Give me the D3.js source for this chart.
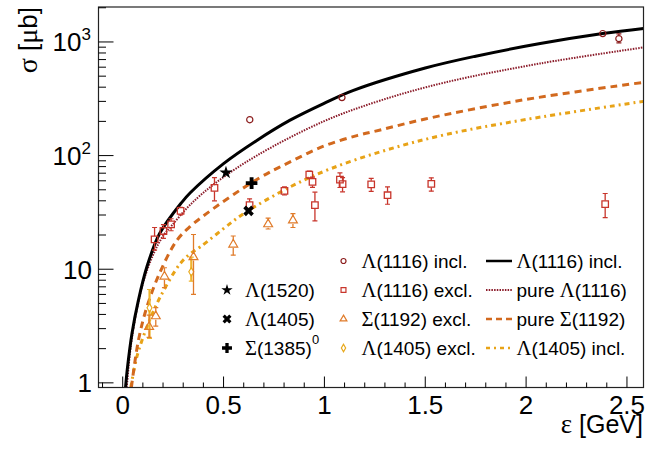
<!DOCTYPE html>
<html><head><meta charset="utf-8">
<script src="https://cdn.jsdelivr.net/npm/d3@7"></script>
<style>body{margin:0;background:#fff} svg{display:block}</style>
</head><body><svg id="c" width="668" height="450"></svg>
<script>
// ---------- DATA ----------
const xTicks = [0, 0.5, 1, 1.5, 2, 2.5];
const xTickLabels = ["0", "0.5", "1", "1.5", "2", "2.5"];
const xMinorTicks = [-0.1,0.1,0.2,0.3,0.4,0.6,0.7,0.8,0.9,1.1,1.2,1.3,1.4,1.6,1.7,1.8,1.9,2.1,2.2,2.3,2.4];
const yTicks = [1, 10, 100, 1000];
const yTickBase = ["1", "10", "10", "10"];
const yTickExp = ["", "", "2", "3"];
const yMinorTicks = [2,3,4,5,6,7,8,9,20,30,40,50,60,70,80,90,200,300,400,500,600,700,800,900,2000];

// Curves (epsilon GeV, sigma μb)
const lamInclCurveEps = [0.014,0.024,0.046,0.078,0.12,0.183,0.293,0.335,0.5,0.665,0.83,0.996,1.144,1.5,1.75,2.07,2.38,2.582];
const lamInclCurveSig = [0.91,1.38,2.72,5.34,10.5,20.6,38.8,47.1,85,136,205,287,375,590,750,968,1185,1313];
const pureLamEps = [0.02,0.04,0.07,0.1,0.15,0.2,0.244,0.335,0.467,0.665,0.996,1.277,1.6,2.07,2.582];
const pureLamSig = [0.91,2.1,4.4,7.5,13.3,19.6,24.3,37,58.6,100,200,305,441,647,895];
const pureSigEps = [0.043,0.078,0.12,0.186,0.269,0.335,0.417,0.665,0.83,0.996,1.161,1.277,1.5,2.0,2.582];
const pureSigSig = [0.91,2.37,4.66,9.5,18,23.8,31,61.7,88,121,150,168,210,312,441];
const lam1405InclEps = [0.04,0.07,0.12,0.186,0.285,0.335,0.384,0.533,0.6,0.83,1.03,1.3,1.6,2.0,2.582];
const lam1405InclSig = [0.91,1.69,3.1,5.7,11.2,13.7,15.7,25.3,30.9,53,76.5,111,153,208,300];

// Data points
const lamInclEps = [0.63, 1.087, 2.38, 2.46];
const lamInclSig = [207, 324, 1185, 1070];
const lamInclHi  = [0, 0, 0, 110];
const lamInclLo  = [0, 0, 0, 90];

const lamExclEps = [0.158,0.202,0.24,0.287,0.455,0.629,0.802,0.925,0.941,0.953,1.077,1.09,1.232,1.313,1.53,2.392];
const lamExclSig = [18.3,21.7,24.8,32.6,52,36.6,49,68,58.6,36.6,61.4,56,55.9,44.8,56.3,37.4];
const lamExclHi  = [5,3,3,2.5,12,5,4,5,6,11,9,8,7,8.2,7.4,9];
const lamExclLo  = [3.6,3,3,2.5,12,5,4,5,6,10,9,8,7.4,7.5,7.7,8.9];

const sigExclEps = [0.131,0.164,0.207,0.351,0.548,0.721,0.844];
const sigExclSig = [3.11,3.86,8.63,12.8,16.5,24.9,26.9];
const sigExclHi  = [0.83,0.74,1.67,7.4,3.1,3.3,4.0];
const sigExclLo  = [0.6,0.71,1.73,6.8,3.2,2.3,3.6];

const l1405ExclEps = [0.133, 0.34];
const l1405ExclSig = [4.57, 9.48];
const l1405ExclHi  = [2.06, 3.3];
const l1405ExclLo  = [2.11, 1.63];

const lam1520 = [0.512, 70.8];
const lam1405 = [0.624, 32.6];
const sig1385 = [0.639, 57.2];

// ---------- STYLE ----------
const C = {
  lamIncl: "#8b1c1c", lamExcl: "#c8352b", sigExcl: "#e07b2a", l1405Excl: "#e8a81a",
  pureLam: "#8b1c2a", pureSig: "#d2691e", l1405Incl: "#e8a317"
};
const SANS = "'Liberation Sans', Arial, Helvetica, sans-serif";
const SERIF = "'Liberation Serif', 'Times New Roman', serif";

const svg = d3.select("#c");
svg.append("rect").attr("width",668).attr("height",450).attr("fill","#fff");
const P = {left:98.5, right:643.5, top:7, bottom:387.5};
const x = d3.scaleLinear().domain([-0.12, 2.582]).range([P.left, P.right]);
const y = d3.scaleLog().domain([0.91, 2031]).range([P.bottom, P.top]);

svg.append("clipPath").attr("id","clip").append("rect")
  .attr("x",P.left).attr("y",P.top).attr("width",P.right-P.left).attr("height",P.bottom-P.top);

// text helper: Greek in serif
function richText(sel, str, size) {
  const parts = str.split(/([ΛΣσμε])/).filter(s => s.length);
  parts.forEach(p => {
    sel.append("tspan").attr("font-family", /[ΛΣσμε]/.test(p) ? SERIF : SANS)
      .attr("font-size", /[ΛΣσμε]/.test(p) ? size*1.08 : size).text(p);
  });
  return sel;
}

// ---------- CURVES ----------
const line = d3.line().x(d=>x(d[0])).y(d=>y(d[1])).curve(d3.curveCatmullRom.alpha(0.5));
const gc = svg.append("g").attr("clip-path","url(#clip)");
function curve(eps, sig, color, width, dash) {
  gc.append("path").datum(eps.map((e,i)=>[e,sig[i]])).attr("d",line)
    .attr("fill","none").attr("stroke",color).attr("stroke-width",width)
    .attr("stroke-dasharray",dash||null);
}
curve(lam1405InclEps, lam1405InclSig, C.l1405Incl, 3, "5,4,2,4");
curve(pureSigEps, pureSigSig, C.pureSig, 3, "7,5");
curve(pureLamEps, pureLamSig, C.pureLam, 2, "1.5,1.2");
curve(lamInclCurveEps, lamInclCurveSig, "#000", 3, null);

// ---------- DATA POINTS ----------
const gp = svg.append("g").attr("clip-path","url(#clip)");
function errBars(eps, sig, hi, lo, color, half, w) {
  eps.forEach((e,i)=>{
    const cx=x(e), cy=y(sig[i]);
    if (hi[i]>0) {
      const yt=y(sig[i]+hi[i]);
      if (cy-half>yt) {
        gp.append("line").attr("x1",cx).attr("x2",cx).attr("y1",cy-half).attr("y2",yt).attr("stroke",color).attr("stroke-width",w);
        gp.append("line").attr("x1",cx-2.5).attr("x2",cx+2.5).attr("y1",yt).attr("y2",yt).attr("stroke",color).attr("stroke-width",1.2);
      }
    }
    if (lo[i]>0) {
      const yb=y(sig[i]-lo[i]);
      if (yb>cy+half) {
        gp.append("line").attr("x1",cx).attr("x2",cx).attr("y1",cy+half).attr("y2",yb).attr("stroke",color).attr("stroke-width",w);
        gp.append("line").attr("x1",cx-2.5).attr("x2",cx+2.5).attr("y1",yb).attr("y2",yb).attr("stroke",color).attr("stroke-width",1.2);
      }
    }
  });
}
function markers(eps, sig, type, size, color, sw, fill, rot) {
  eps.forEach((e,i)=>{
    gp.append("path").attr("d", d3.symbol().type(type).size(size)())
      .attr("transform",`translate(${x(e)},${y(sig[i])}) rotate(${rot||0})`)
      .attr("fill",fill||"none").attr("stroke",fill?null:color).attr("stroke-width",sw);
  });
}
errBars(l1405ExclEps, l1405ExclSig, l1405ExclHi, l1405ExclLo, "#efb52e", 2.5, 2.2);
markers(l1405ExclEps, l1405ExclSig, d3.symbolDiamond, 22, C.l1405Excl, 1.1);
errBars(sigExclEps, sigExclSig, sigExclHi, sigExclLo, C.sigExcl, 3.5, 1.3);
markers(sigExclEps, sigExclSig, d3.symbolTriangle, 34, C.sigExcl, 1.2);
errBars(lamExclEps, lamExclSig, lamExclHi, lamExclLo, C.lamExcl, 3.5, 1.3);
markers(lamExclEps, lamExclSig, d3.symbolSquare, 42, C.lamExcl, 1.3);
errBars(lamInclEps, lamInclSig, lamInclHi, lamInclLo, C.lamIncl, 3.5, 1.3);
markers(lamInclEps, lamInclSig, d3.symbolCircle, 30, C.lamIncl, 1.2);
markers([lam1520[0]],[lam1520[1]], d3.symbolStar, 55, "#000", 0, "#000");
markers([lam1405[0]],[lam1405[1]], d3.symbolCross, 70, "#000", 0, "#000", 45);
markers([sig1385[0]],[sig1385[1]], d3.symbolCross, 75, "#000", 0, "#000");

// ---------- AXES ----------
const ga = svg.append("g");
ga.append("rect").attr("x",P.left).attr("y",P.top).attr("width",P.right-P.left).attr("height",P.bottom-P.top)
  .attr("fill","none").attr("stroke","#222").attr("stroke-width",1.2);
xTicks.forEach((t,i)=>{
  ga.append("line").attr("x1",x(t)).attr("x2",x(t)).attr("y1",P.bottom).attr("y2",P.bottom-11).attr("stroke","#000");
  ga.append("text").attr("x",x(t)).attr("y",414).attr("text-anchor","middle")
    .attr("font-family",SANS).attr("font-size",26).text(xTickLabels[i]);
});
xMinorTicks.forEach(t=>{
  ga.append("line").attr("x1",x(t)).attr("x2",x(t)).attr("y1",P.bottom).attr("y2",P.bottom-5).attr("stroke","#000");
});
yTicks.forEach((t,i)=>{
  ga.append("line").attr("x1",P.left).attr("x2",P.left+15).attr("y1",y(t)).attr("y2",y(t)).attr("stroke","#000");
  const tx = ga.append("text").attr("x", yTickExp[i] ? 91 : 92).attr("y",y(t)+9.5).attr("text-anchor","end")
    .attr("font-family",SANS).attr("font-size",26);
  tx.append("tspan").text(yTickBase[i]);
  if (yTickExp[i]) tx.append("tspan").attr("font-size",17).attr("dy",-11).text(yTickExp[i]);
});
yMinorTicks.forEach(t=>{
  ga.append("line").attr("x1",P.left).attr("x2",P.left+7.5).attr("y1",y(t)).attr("y2",y(t)).attr("stroke","#000");
});
richText(ga.append("text").attr("x",643).attr("y",433).attr("text-anchor","end"), "ε [GeV]", 25);
richText(ga.append("text").attr("transform","translate(37,7) rotate(-90)").attr("text-anchor","end"), "σ [μb]", 26);

// ---------- LEGENDS ----------
const gl = svg.append("g");
const FS = 19;
const rowsY = [261, 290, 319, 348];
const legMarkers = [
  {type:d3.symbolCircle, size:20, color:C.lamIncl, label:"Λ(1116) incl."},
  {type:d3.symbolSquare, size:24, color:C.lamExcl, label:"Λ(1116) excl."},
  {type:d3.symbolTriangle, size:20, color:C.sigExcl, label:"Σ(1192) excl."},
  {type:d3.symbolDiamond, size:16, color:C.l1405Excl, label:"Λ(1405) excl."}
];
const legLines = [
  {color:"#000", w:2.5, dash:null, label:"Λ(1116) incl."},
  {color:C.pureLam, w:2, dash:"1.5,1.2", label:"pure Λ(1116)"},
  {color:C.pureSig, w:2.5, dash:"6,4", label:"pure Σ(1192)"},
  {color:C.l1405Incl, w:2.5, dash:"4,4,2,4", label:"Λ(1405) incl."}
];
legMarkers.forEach((m,i)=>{
  gl.append("path").attr("d",d3.symbol().type(m.type).size(m.size)())
    .attr("transform",`translate(343.5,${rowsY[i]})`).attr("fill","none").attr("stroke",m.color).attr("stroke-width",1.2);
  richText(gl.append("text").attr("x",361.5).attr("y",rowsY[i]+7), m.label, FS);
});
legLines.forEach((l,i)=>{
  gl.append("line").attr("x1",486).attr("x2",512).attr("y1",rowsY[i]).attr("y2",rowsY[i])
    .attr("stroke",l.color).attr("stroke-width",l.w).attr("stroke-dasharray",l.dash);
  richText(gl.append("text").attr("x",516.5).attr("y",rowsY[i]+7), l.label, FS);
});
const blk = [
  {type:d3.symbolStar, size:40, rot:0, label:"Λ(1520)"},
  {type:d3.symbolCross, size:50, rot:45, label:"Λ(1405)"},
  {type:d3.symbolCross, size:55, rot:0, label:"Σ(1385)"}
];
blk.forEach((b,i)=>{
  const yy = rowsY[i+1];
  gl.append("path").attr("d",d3.symbol().type(b.type).size(b.size)())
    .attr("transform",`translate(227,${yy}) rotate(${b.rot})`).attr("fill","#000");
  const t = richText(gl.append("text").attr("x",245).attr("y",yy+7), b.label, FS);
  if (i===2) t.append("tspan").attr("font-family",SANS).attr("font-size",13).attr("dy",-11).text("0");
});
</script></body></html>
